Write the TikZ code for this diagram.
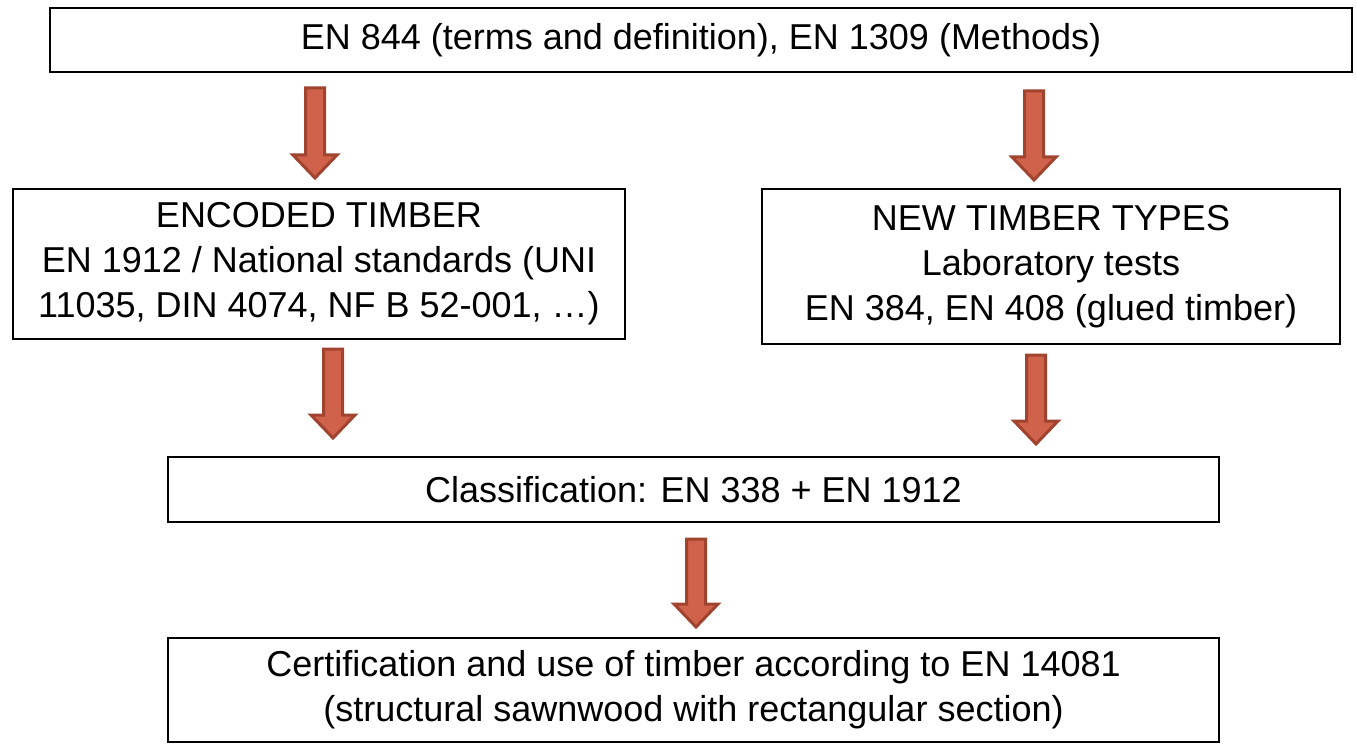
\documentclass[tikz,border=0pt]{standalone}
\usepackage{fontspec}
\setmainfont{Liberation Sans}
\usetikzlibrary{calc}
\definecolor{arrowfill}{HTML}{D0614A}
\definecolor{arrowline}{HTML}{A0442F}
\newcommand\downblock[2]{%
	\draw[blockarrow] ($(#1)+(-9.5,0)$) -- ($(#2)+(-9.5,-23)$) -- ($(#2)+(-22,-23)$) -- (#2)
		-- ($(#2)+(22,-23)$) -- ($(#2)+(9.5,-23)$) -- ($(#1)+(9.5,0)$) -- cycle;}
\begin{document}
\begin{tikzpicture}[x=1pt,y=-1pt,
		box/.style={draw=black,line width=2.5pt,fill=white,align=center,inner sep=0pt,font=\fontsize{36}{45}\selectfont},
		blockarrow/.style={fill=arrowfill,draw=arrowline,line width=3pt,line join=miter}]
		\useasboundingbox (0,0) rectangle (1357,746);
		\node[box,minimum width=1302,minimum height=64] (norms) at (701,40) {EN 844 (terms and definition), EN 1309 (Methods)};
		\node[box,minimum width=612,minimum height=150] (encoded) at (319,264) {ENCODED TIMBER\\EN 1912 / National standards (UNI\\11035, DIN 4074, NF B 52-001, …)};
		\node[box,minimum width=578,minimum height=155] (newtypes) at (1051,266.5) {NEW TIMBER TYPES\\Laboratory tests\\EN 384, EN 408 (glued timber)};
		\node[box,minimum width=1051,minimum height=65] (classif) at (693.5,489.5) {Classification: EN 338 + EN 1912};
		\node[box,minimum width=1051,minimum height=104] (certif) at (693.5,690) {Certification and use of timber according to EN 14081\\(structural sawnwood with rectangular section)};
		\coordinate (a1t) at (315,88);
		\coordinate (a1b) at (315,178);
		\coordinate (a2t) at (1034,91);
		\coordinate (a2b) at (1034,180);
		\coordinate (a3t) at (333,349);
		\coordinate (a3b) at (333,438);
		\coordinate (a4t) at (1036,355);
		\coordinate (a4b) at (1036,444);
		\coordinate (a5t) at (696,539);
		\coordinate (a5b) at (696,627);
		\downblock{a1t}{a1b}
		\downblock{a2t}{a2b}
		\downblock{a3t}{a3b}
		\downblock{a4t}{a4b}
		\downblock{a5t}{a5b}
	\end{tikzpicture}
\end{document}
